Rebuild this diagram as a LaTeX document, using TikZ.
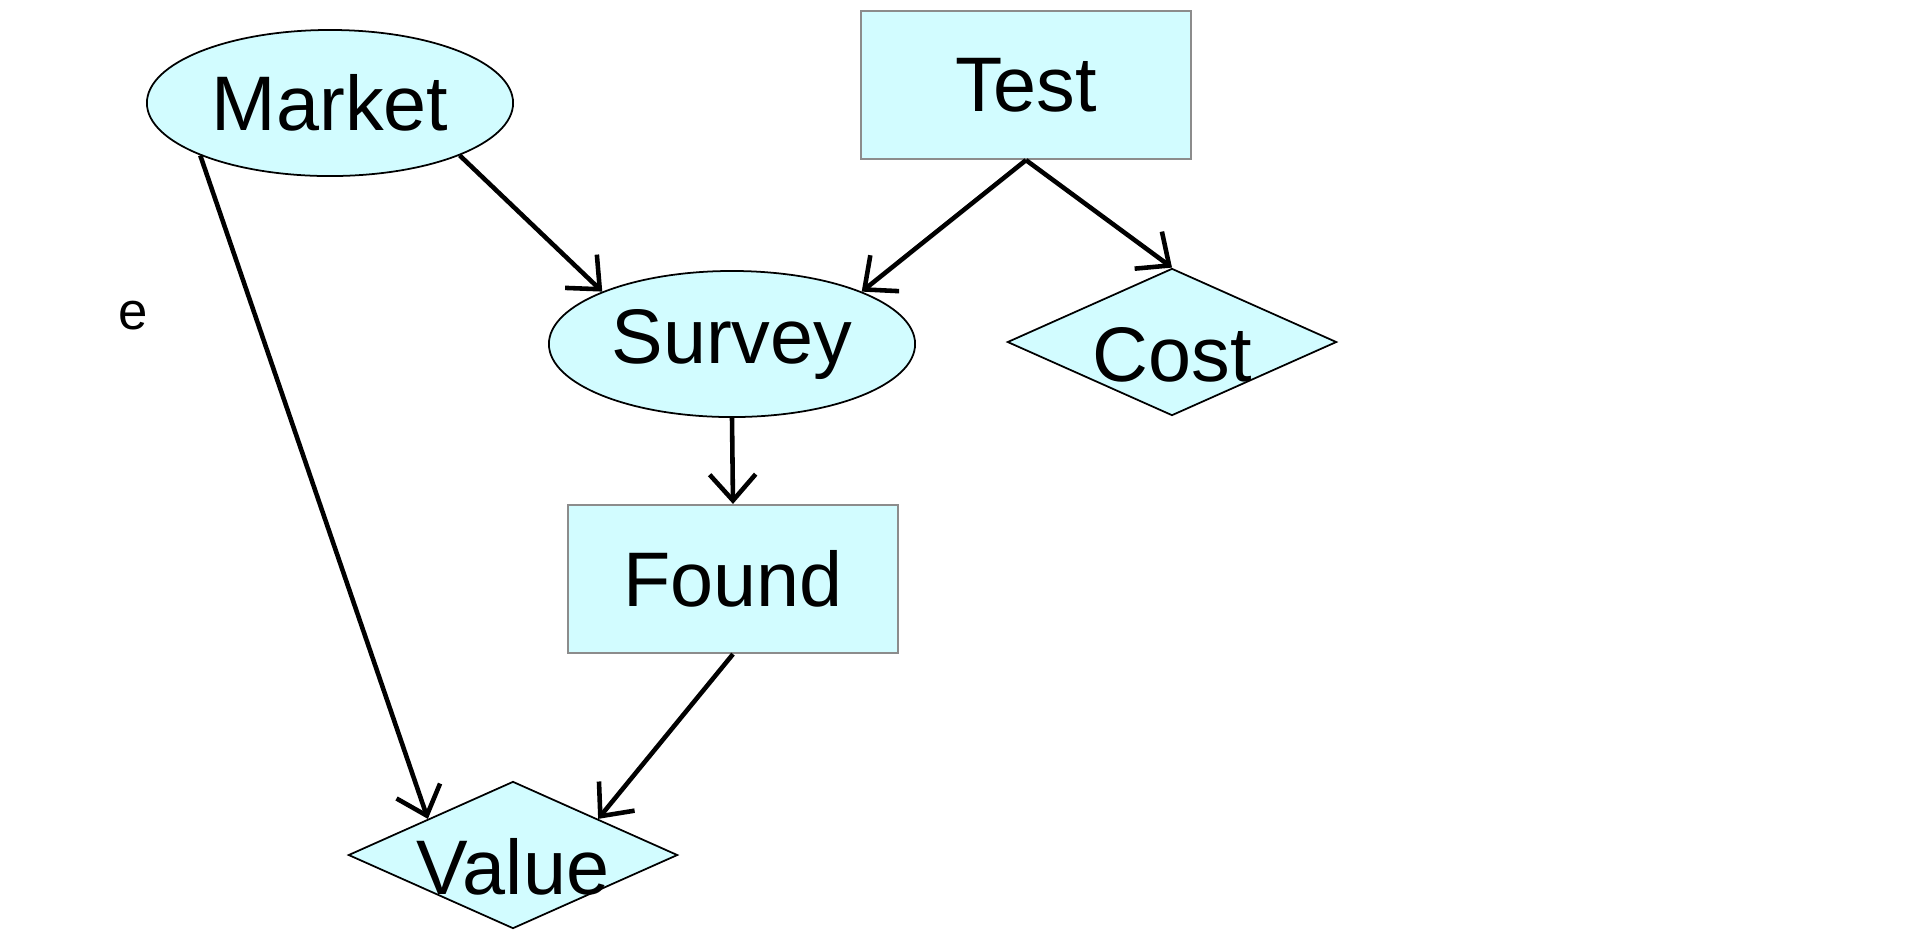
\documentclass[tikz,border=0pt]{standalone}
\usepackage{fontspec}
\setmainfont{Liberation Sans}
\usetikzlibrary{positioning,arrows.meta,shapes.geometric}
\definecolor{nodefill}{RGB}{210,252,255}
\newcommand{\dropped}[1]{\raisebox{-0.12cm}[0.55cm][0pt]{#1}}
\tikzset{
  chance/.style ={ellipse, draw=black, fill=nodefill, line width=0.5pt,
                  minimum width=3.66cm, minimum height=1.46cm, inner sep=0pt,
                  font=\fontsize{22}{26}\selectfont},
  decide/.style ={rectangle, draw=black!45, fill=nodefill, line width=0.6pt,
                  minimum width=3.3cm, minimum height=1.48cm, inner sep=0pt,
                  font=\fontsize{22}{26}\selectfont},
  utility/.style={diamond, draw=black, fill=nodefill, line width=0.5pt,
                  minimum width=3.29cm, minimum height=1.47cm, inner sep=0pt,
                  aspect=2.2, font=\fontsize{22}{26}\selectfont},
  link/.style   ={-{Straight Barb[length=2.6mm,width=4.6mm]}, line width=1.3pt}
}

\begin{document}
\begin{tikzpicture}[x=0.01cm,y=-0.01cm]
\useasboundingbox (0,0) rectangle (1914,947);

%% ---- Nodes ---------------------------------------------------------
\node[chance]  (market) at (330,103)  {Market};
\node[decide]  (test)   at (1026,85)  {Test};
\node[chance]  (survey) at (732,344)  {Survey};
\node[utility] (cost)   at (1172,342) {\dropped{Cost}};
\node[decide]  (found)  at (733,579)  {Found};
\node[utility] (value)  at (513,855)  {\dropped{Value}};
\node[font=\fontsize{15}{18}\selectfont, inner sep=0pt] (stray) at (133,316) {e};

%% ---- Arcs ----------------------------------------------------------
\draw[link] (market.-22) -- (survey.158);
\draw[link] (market.-158) -- (value.157);
\draw[link] (test.south) -- (survey.22);
\draw[link] (test.south) -- (cost.north);
\draw[link] (survey.south) -- (found.north);
\draw[link] (found.south) -- (value.23);
\end{tikzpicture}
\end{document}
